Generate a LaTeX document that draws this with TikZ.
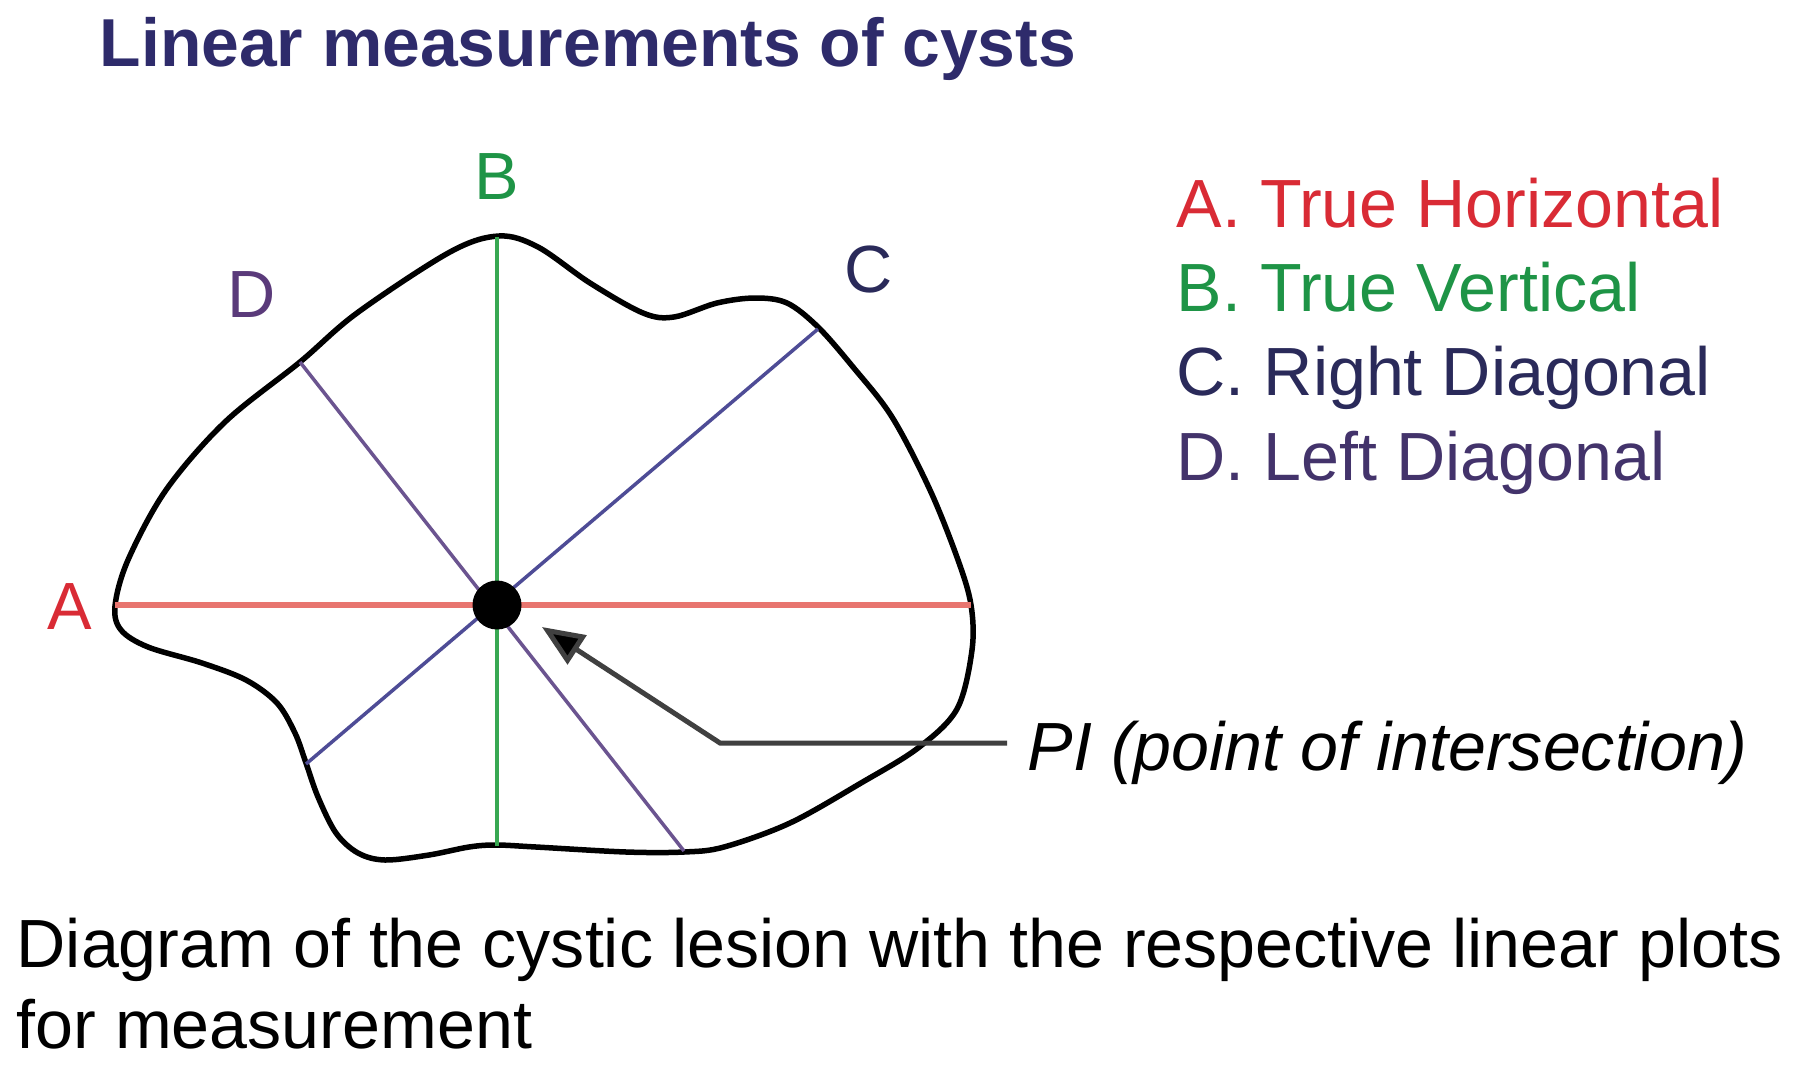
\documentclass[tikz,border=0pt]{standalone}
\usepackage{fontspec}
\setmainfont{Liberation Sans}
\usetikzlibrary{arrows.meta}
\definecolor{titlecol}{HTML}{2E2B6B}
\definecolor{legA}{HTML}{D92B35}
\definecolor{legB}{HTML}{1E9446}
\definecolor{legC}{HTML}{2A2A5A}
\definecolor{legD}{HTML}{43336B}
\definecolor{labD}{HTML}{5A3A7A}
\definecolor{lineA}{HTML}{E8756F}
\definecolor{lineB}{HTML}{38A852}
\definecolor{lineC}{HTML}{4E4C96}
\definecolor{lineD}{HTML}{6B5490}
\definecolor{arrowcol}{HTML}{404040}
\tikzset{
  txt/.style={inner sep=0pt, anchor=base west, font=\fontsize{19.4}{23}\selectfont},
  lbl/.style={inner sep=0pt, anchor=base, font=\fontsize{19}{23}\selectfont},
  outline/.style={draw=black, line width=0.55mm},
  meas/.style={line width=0.35mm},
}
\begin{document}
\begin{tikzpicture}[x=0.1mm, y=-0.1mm]
\useasboundingbox (0,0) rectangle (1800,1073);
\fill[white] (0,0) rectangle (1800,1073);

% title
\node[txt, font=\fontsize{19.3}{23}\selectfont\bfseries, text=titlecol] (title) at (99,67) {Linear measurements of cysts};

% cyst outline
\draw[outline] plot[smooth cycle, tension=0.55] coordinates {
(499,236) (538,247) (590,283) (643,313) (674,317) (717,303) (755,298) (787,303)
(818,327) (853,367) (892,417) (930,490) (958,560) (971,605) (972,650) (957,709)
(918,748) (861,783) (790,823) (724,847) (684,852) (626,852) (536,847) (496,845)
(469,847) (429,855) (385,860) (358,853) (336,833) (318,797) (306,763) (295,733)
(277,703) (246,680) (202,663) (148,647) (121,630) (115,606) (128,560) (166,490)
(225,422) (300,362) (357,313) (450,252)
};

% measurement line end points
\coordinate (Al) at (115,605);
\coordinate (Ar) at (971,605);
\coordinate (Bt) at (497,237);
\coordinate (Bb) at (497,846);
\coordinate (Ct) at (818,329);
\coordinate (Cb) at (306,764);
\coordinate (Dt) at (300,362);
\coordinate (Db) at (684,851);

\draw[meas, draw=lineB] (Bt) -- (Bb);
\draw[meas, draw=lineC] (Cb) -- (Ct);
\draw[meas, draw=lineD] (Dt) -- (Db);
\draw[line width=0.65mm, draw=lineA] (Al) -- (Ar);

% point of intersection
\node[circle, fill=black, minimum size=4.9mm, inner sep=0pt] (pi) at (497,605) {};

% line labels
\node[lbl, text=legA] (labA) at (70,629) {A};
\node[lbl, text=legB] (labB) at (497,200) {B};
\node[lbl, text=legC] (labC) at (869,292) {C};
\node[lbl, text=labD] (labD) at (252,317) {D};

% legend
\node[txt, text=legA] (legendA) at (1176,227) {A. True Horizontal};
\node[txt, text=legB] (legendB) at (1176,311) {B. True Vertical};
\node[txt, text=legC] (legendC) at (1176,395) {C. Right Diagonal};
\node[txt, text=legD] (legendD) at (1176,480) {D. Left Diagonal};

% PI label and arrow
\node[txt, font=\fontsize{19.4}{23}\selectfont\itshape] (pilabel) at (1027,770) {PI (point of intersection)};
\coordinate (elbow) at (720,743);
\coordinate (tip) at (542,627);
\draw[line width=0.5mm, draw=arrowcol, -{Triangle[length=4.2mm, width=3.4mm, fill=black]}] ([xshift=-2mm]pilabel.west |- elbow) -- (elbow) -- (tip);

% caption
\node[txt] (cap1) at (16,967) {Diagram of the cystic lesion with the respective linear plots};
\node[txt] (cap2) at (16,1048) {for measurement};
\end{tikzpicture}
\end{document}
